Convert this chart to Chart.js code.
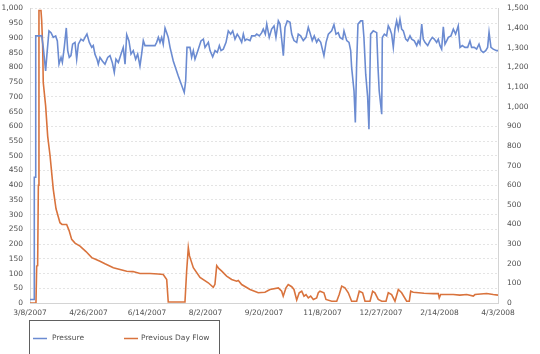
<!DOCTYPE html>
<html>
<head>
<meta charset="utf-8">
<title>Pressure and Previous Day Flow</title>
<script src="https://cdn.jsdelivr.net/npm/chart.js"></script>
<style>
  html, body { margin: 0; padding: 0; background: #fff; }
</style>
</head>
<body>
<canvas id="flowChart" width="540" height="354"></canvas>
<script>
// x values are days since 3/8/2007
const xTickLabels = ['3/8/2007', '4/26/2007', '6/14/2007', '8/2/2007', '9/20/2007',
  '11/8/2007', '12/27/2007', '2/14/2008', '4/3/2008'];

const pressureDays = [0, 3.5, 3.6, 4.3, 4.8, 8.4, 9.8, 11.1, 13.1, 14.2, 15.9, 17.6, 19.5, 21.5, 22.9,
  24.3, 26, 27.1, 28.7, 30.4, 31.6, 32.9, 34.3, 35.7, 37.7, 39.1, 40.5, 42.7, 44.6, 46.1, 47.7, 49.7,
  51.7, 53, 54.4, 56.1, 57.2, 58.6, 60.6, 62.8, 65.1, 67, 68.9, 70.6, 72, 74, 76.2, 78.1, 79.6, 81,
  82.9, 84.6, 86.5, 88.5, 90.2, 92.1, 93.5, 94.9, 96.3, 104.7, 106.1, 107.5, 108.9, 110.3, 111.6,
  113.1, 114.5, 115.8, 117.3, 120, 124.2, 129.2, 130.4, 131.5, 134, 135.4, 136.8, 138.2, 141, 143.2,
  145.2, 146.6, 149.4, 150.8, 153, 155, 156.9, 158.6, 160, 161.9, 164.2, 166.1, 168.1, 169.8, 171.7,
  173.6, 175.3, 177.3, 178.7, 180.1, 181.5, 184.3, 185.7, 188.5, 189.9, 192.1, 194.1, 195.4, 197.1,
  198.3, 200.4, 202.4, 204.4, 206, 208, 209.4, 210.8, 212.2, 213.6, 215.5, 217.8, 219.2, 221.1, 223.4,
  224.7, 226.7, 228.9, 231.2, 233.1, 234.5, 236.4, 238.1, 240.1, 241.5, 243.5, 246.2, 248, 249.9,
  252.7, 254.6, 256.3, 258.2, 259.6, 261.9, 263, 265.3, 267.2, 268.6, 269.4, 271.4, 272.5, 273.6,
  274.7, 277, 278.6, 279.7, 281.2, 282.8, 283.9, 285.3, 287.5, 290.4, 291.5, 292.5, 294.6, 295.1,
  296.8, 298.7, 300.1, 301.5, 302.9, 304.3, 305.7, 307.1, 308.5, 309.9, 311.3, 312.7, 314.7, 316.3,
  318.3, 319.7, 321.9, 323.9, 325.2, 326.6, 328.1, 329.4, 330.8, 333.1, 335, 337, 338.6, 340.6, 342,
  343.4, 344.8, 346.2, 347.6, 349, 350.4, 352.6, 354.6, 356.5, 358.7, 360.2, 362.1, 364.3, 366.6,
  368.5, 369.9, 372.1, 374.1, 376.1, 377.8, 379.7, 381.7, 383.3, 384.5, 386.1, 388, 390.9, 392];
const pressure = [12, 12, 427, 427, 907, 907, 908, 868, 788, 845, 924, 918, 902, 907, 890,
  811, 834, 817, 868, 934, 857, 834, 840, 879, 885, 828, 879, 896, 890, 902, 913, 885,
  868, 874, 845, 828, 811, 834, 822, 811, 834, 840, 817, 783, 828, 817, 845, 868, 811, 911,
  890, 845, 857, 828, 845, 805, 845, 891, 874, 874, 885, 902, 885, 902, 879,
  934, 918, 902, 868, 822, 771, 715, 754, 868, 868, 834, 857, 828, 862, 890,
  896, 868, 885, 857, 836, 857, 851, 874, 857, 862, 885, 924, 913, 924, 896,
  913, 902, 885, 913, 891, 896, 891, 907, 907, 913, 907, 918, 930, 913,
  947, 902, 930, 941, 902, 958, 947, 896, 840, 936, 958, 953, 913, 891, 885,
  913, 907, 891, 902, 936, 918, 891, 907, 885, 896, 885, 840, 885, 913,
  924, 945, 913, 918, 902, 896, 924, 891, 885, 857, 800, 720, 613, 811,
  947, 958, 958, 902, 777, 700, 590, 913, 924, 918, 800, 720, 641, 902,
  913, 907, 941, 930, 913, 868, 930, 958, 930, 964, 930, 924, 896, 890,
  907, 896, 890, 874, 890, 879, 947, 896, 885, 874, 890, 902, 896, 885, 896,
  874, 862, 938, 879, 890, 902, 907, 930, 913, 941, 868, 874, 868, 868,
  890, 868, 868, 862, 879, 857, 851, 857, 868, 919, 868, 862, 857, 857];

const flowDays = [0, 5, 5.6, 6.4, 7, 7.5, 9.2, 9.8, 10.6, 11.1, 13.1, 14.8, 16.8, 19.5, 21.8, 25.1,
  26.8, 30.7, 32.7, 34.9, 37.7, 41.9, 46.9, 51.7, 55.3, 58.6, 62.8, 69.8, 75.4, 81, 86.3, 92.1,
  100.5, 107.2, 111.6, 114.5, 115.8, 129.8, 131.2, 132.6, 133.6, 136.8, 142.4, 149.3, 153.5, 154.9,
  156.4, 158.3, 160.6, 164.7, 168.9, 173.1, 174.5, 177.3, 184.3, 191.2, 196.8, 201, 208, 210.8,
  212.1, 214.4, 216.3, 219.2, 221.1, 223.4, 225.5, 227.6, 229.5, 231.2, 233.1, 235.1, 237.3, 240.1,
  241.5, 242.9, 246.2, 247.9, 252.7, 256.9, 259, 261.1, 263.8, 266.6, 269.4, 273.6, 275.8, 278.6,
  280.6, 284.8, 287, 288.9, 291.7, 294.6, 298.2, 300.1, 302.9, 305.7, 308.5, 311.3, 315.5, 317.7,
  318.9, 321, 330, 337.8, 342, 342.8, 344, 354.5, 360, 365.8, 371.3, 372.7, 382.5, 388, 392];
const flow = [0, 0, 188, 190, 600, 1490, 1490, 1437, 1310, 1123, 1004, 850, 750, 579, 480, 409,
  400, 400, 370, 324, 305, 290, 262, 231, 222, 213, 200, 180, 171, 162, 160, 150,
  150, 148, 145, 120, 5, 5, 162, 282, 240, 180, 130, 103, 80, 95,
  190, 175, 162, 137, 120, 111, 115, 94, 69, 52, 55, 69, 77, 60,
  35, 77, 94, 83, 69, 15, 52, 60, 35, 43, 26, 35, 18, 26,
  52, 60, 52, 18, 9, 9, 43, 86, 77, 52, 9, 9, 60, 52,
  9, 9, 60, 52, 18, 9, 9, 52, 43, 9, 69, 52, 9, 9,
  60, 55, 50, 48, 48, 26, 43, 43, 40, 43, 35, 43, 48, 43, 40];

const pressureColor = '#6b8bd1';
const flowColor = '#d9733d';
const tickFont = { family: 'DejaVu Sans', size: 7.5 };
const tickColor = '#505050';

const toPoints = (xs, ys) => xs.map((x, i) => ({ x: x, y: ys[i] }));

// fixed axis widths so the plot area sits where it does in the picture
const fitY = (width) => (s) => {
  s.width = width;
  s.paddingTop = 4;
  s.paddingBottom = 4;
};

// legend is drawn in a box under the x axis
const legendBox = {
  id: 'legendBox',
  afterDraw(chart) {
    const ctx = chart.ctx;
    ctx.save();
    ctx.strokeStyle = '#606060';
    ctx.lineWidth = 1;
    ctx.strokeRect(29.5, 320.5, 190, 40);
    ctx.font = '7.5px "DejaVu Sans"';
    ctx.textBaseline = 'middle';
    ctx.fillStyle = '#505050';
    const items = [[33, 52], [124, 141]];
    chart.data.datasets.forEach((ds, i) => {
      ctx.strokeStyle = ds.borderColor;
      ctx.lineWidth = 1.5;
      ctx.beginPath();
      ctx.moveTo(items[i][0], 338.5);
      ctx.lineTo(items[i][0] + 14, 338.5);
      ctx.stroke();
      ctx.fillText(ds.label, items[i][1], 338.5);
    });
    ctx.restore();
  }
};

new Chart(document.getElementById('flowChart'), {
  type: 'line',
  data: {
    datasets: [
      {
        label: 'Pressure',
        data: toPoints(pressureDays, pressure),
        yAxisID: 'y',
        borderColor: pressureColor,
        borderWidth: 1.6,
        pointRadius: 0,
        tension: 0
      },
      {
        label: 'Previous Day Flow',
        data: toPoints(flowDays, flow),
        yAxisID: 'y1',
        borderColor: flowColor,
        borderWidth: 1.6,
        pointRadius: 0,
        tension: 0
      }
    ]
  },
  options: {
    responsive: false,
    animation: false,
    layout: { padding: { top: 8.5, left: 0, right: 0, bottom: 0 } },
    plugins: {
      legend: { display: false },
      tooltip: { enabled: false }
    },
    scales: {
      x: {
        type: 'linear',
        min: 0,
        max: 392,
        ticks: {
          stepSize: 49,
          padding: 6,
          color: tickColor,
          font: tickFont,
          maxRotation: 0,
          callback: (v) => xTickLabels[Math.round(v / 49)]
        },
        grid: { display: false, drawTicks: false },
        border: { color: '#d4d4d4' },
        afterFit: (s) => { s.height = 51; }
      },
      y: {
        position: 'left',
        min: 0,
        max: 1000,
        ticks: { stepSize: 50, padding: 7, color: tickColor, font: tickFont },
        grid: { color: '#e4e4e4', drawTicks: false },
        border: { color: '#d4d4d4', dash: [2, 2] },
        afterFit: fitY(30)
      },
      y1: {
        position: 'right',
        min: 0,
        max: 1500,
        ticks: { stepSize: 100, padding: 9, color: tickColor, font: tickFont },
        grid: { display: false, drawTicks: false },
        border: { color: '#d4d4d4' },
        afterFit: fitY(42)
      }
    }
  },
  plugins: [legendBox]
});
</script>
</body>
</html>
